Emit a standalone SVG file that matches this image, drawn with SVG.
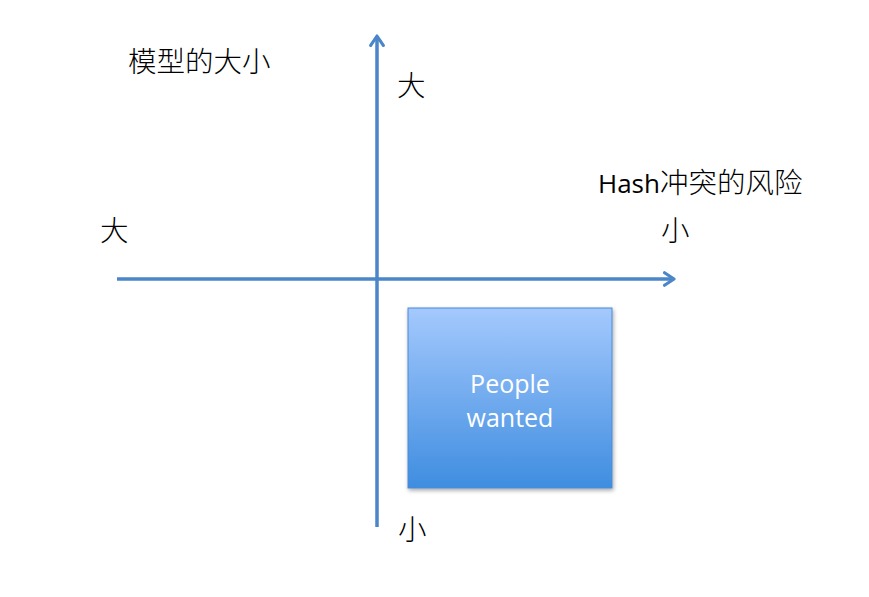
<svg xmlns="http://www.w3.org/2000/svg" width="869" height="597" viewBox="0 0 869 597">
<style>
.lbl{font-family:"Noto Sans CJK SC",sans-serif;font-size:28.5px;font-weight:300;fill:#000}
.box-t{font-family:"Open Sans","Liberation Sans",sans-serif;font-size:25px;fill:#fff;text-anchor:middle}
.ax{stroke:#4a86c8;stroke-width:3.5;fill:none}
</style>
<defs>
<linearGradient id="g" x1="0" y1="0" x2="0" y2="1">
<stop offset="0" stop-color="#a4c9fd"/>
<stop offset="1" stop-color="#3f8de0"/>
</linearGradient>
<filter id="sh" x="-10%" y="-10%" width="130%" height="130%">
<feGaussianBlur in="SourceAlpha" stdDeviation="2"/>
<feOffset dx="1" dy="2"/>
<feComponentTransfer><feFuncA type="linear" slope="0.35"/></feComponentTransfer>
<feMerge><feMergeNode/><feMergeNode in="SourceGraphic"/></feMerge>
</filter>
<marker id="arr" viewBox="0 0 10 10" refX="7" refY="5" markerWidth="4.5" markerHeight="4.5" orient="auto" markerUnits="strokeWidth">
<path d="M1,1 L7,5 L1,9" fill="none" stroke="#4a86c8" stroke-width="2" stroke-linecap="round" stroke-linejoin="round"/>
</marker>
</defs>
<rect width="869" height="597" fill="#fff"/>
<g id="connectors">
<line class="ax" x1="377" y1="527" x2="377" y2="36" marker-end="url(#arr)"/>
<line class="ax" x1="117" y1="279" x2="674" y2="279" marker-end="url(#arr)"/>
</g>
<g id="box">
<rect x="408" y="308" width="204" height="180" fill="url(#g)" stroke="#4a8ad6" stroke-width="1" filter="url(#sh)"/>
<text class="box-t" x="510" y="393">People</text>
<text class="box-t" x="510" y="427">wanted</text>
</g>
<g id="labels">
<text class="lbl" x="128" y="72">模型的大小</text>
<text class="lbl" x="397" y="96">大</text>
<text class="lbl" x="598" y="193"><tspan style="font-family:'Open Sans','Liberation Sans',sans-serif;font-size:26px;font-weight:400">Hash</tspan>冲突的风险</text>
<text class="lbl" x="100" y="241">大</text>
<text class="lbl" x="661" y="241">小</text>
<text class="lbl" x="398" y="540">小</text>
</g>
</svg>
